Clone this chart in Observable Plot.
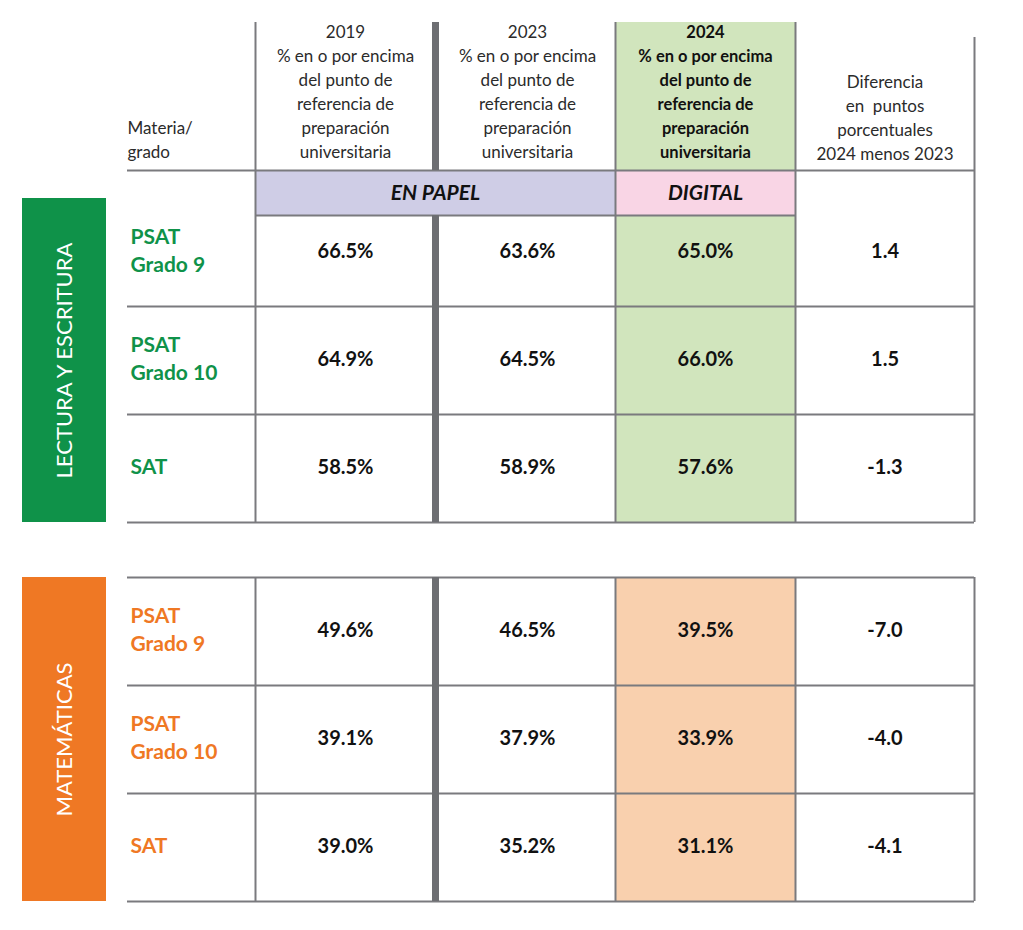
<!DOCTYPE html>
<html>
<head>
<meta charset="utf-8">
<script src="https://cdn.jsdelivr.net/npm/d3@7"></script>
<script src="https://cdn.jsdelivr.net/npm/@observablehq/plot@0.6"></script>
<style>
  html, body { margin: 0; padding: 0; background: #fff; }
  #chart svg { display: block; }
</style>
</head>
<body>
<div id="chart"></div>
<script>
// ---------- DATA ----------
const subjects = ["LECTURA Y ESCRITURA", "MATEMÁTICAS"];
const grades = ["PSAT\nGrado 9", "PSAT\nGrado 10", "SAT", "PSAT\nGrado 9", "PSAT\nGrado 10", "SAT"];
const pct2019 = [66.5, 64.9, 58.5, 49.6, 39.1, 39.0];
const pct2023 = [63.6, 64.5, 58.9, 46.5, 37.9, 35.2];
const pct2024 = [65.0, 66.0, 57.6, 39.5, 33.9, 31.1];
const diffPts = [1.4, 1.5, -1.3, -7.0, -4.0, -4.1];
const headers = [
  "Materia/\ngrado",
  "2019\n% en o por encima\ndel punto de\nreferencia de\npreparación\nuniversitaria",
  "2023\n% en o por encima\ndel punto de\nreferencia de\npreparación\nuniversitaria",
  "2024\n% en o por encima\ndel punto de\nreferencia de\npreparación\nuniversitaria",
  "Diferencia\nen  puntos\nporcentuales\n2024 menos 2023"
];
const modes = ["EN PAPEL", "DIGITAL"];

// ---------- LAYOUT ----------
const colEdges = [127, 255, 435, 615, 795, 974];
const headTop = 22, headBottom = 170, bandBottom = 215;
const sectionEdges = [[215, 306, 414, 522], [577, 685, 793, 901]];
const boxTops = [198, 577];
const boxX = [22, 106];
const subjColor = ["#0f9249", "#ef7824"];
const col2024Fill = ["#d1e5bd", "#f9d0ae"];
const lineColor = "#7a7a7e";
const thickColor = "#6d6e72";
const headerLine = 24;

// build cell table
const rows = grades.map((g, i) => {
  const s = Math.floor(i / 3), r = i % 3;
  const y1 = sectionEdges[s][r], y2 = sectionEdges[s][r + 1];
  const ty1 = r === 0 ? boxTops[s] : y1;
  return {s, label: g, y1, y2, cy: (ty1 + y2) / 2,
    v: [pct2019[i], pct2023[i], pct2024[i]], d: diffPts[i]};
});
const cells = [];
rows.forEach(row => {
  row.v.forEach((v, c) => cells.push({x: (colEdges[c + 1] + colEdges[c + 2]) / 2 + (c === 1 ? 2 : 0), y: row.cy, t: v.toFixed(1) + "%"}));
  cells.push({x: (colEdges[4] + colEdges[5]) / 2, y: row.cy, t: row.d.toFixed(1)});
});

// backgrounds
const bgRects = [
  {x1: colEdges[3], x2: colEdges[4], y1: headTop, y2: sectionEdges[0][3], fill: col2024Fill[0]},
  {x1: colEdges[3], x2: colEdges[4], y1: sectionEdges[1][0], y2: sectionEdges[1][3], fill: col2024Fill[1]},
  {x1: colEdges[1], x2: colEdges[3], y1: headBottom, y2: bandBottom, fill: "#cfcde6"},
  {x1: colEdges[3], x2: colEdges[4], y1: headBottom, y2: bandBottom, fill: "#f9d5e5"},
  {x1: boxX[0], x2: boxX[1], y1: boxTops[0], y2: sectionEdges[0][3], fill: subjColor[0]},
  {x1: boxX[0], x2: boxX[1], y1: boxTops[1], y2: sectionEdges[1][3], fill: subjColor[1]}
];

// horizontal rules
const hRules = [
  {y: headBottom, x1: colEdges[0], x2: colEdges[5]},
  {y: bandBottom, x1: colEdges[1], x2: colEdges[4]},
  ...sectionEdges[0].slice(1).map(y => ({y, x1: colEdges[0], x2: colEdges[5]})),
  ...sectionEdges[1].map(y => ({y, x1: colEdges[0], x2: colEdges[5]}))
];
// vertical thin rules
const vRules = [];
[1, 3, 4, 5].forEach(c => {
  vRules.push({x: colEdges[c], y1: c === 5 ? 37 : headTop, y2: sectionEdges[0][3]});
  vRules.push({x: colEdges[c], y1: sectionEdges[1][0], y2: sectionEdges[1][3]});
});
const thickRules = [
  {x: colEdges[2], y1: headTop, y2: headBottom},
  {x: colEdges[2], y1: bandBottom, y2: sectionEdges[0][3]},
  {x: colEdges[2], y1: sectionEdges[1][0], y2: sectionEdges[1][3]}
];

// header blocks: bottom-aligned above the header rule
const headerItems = headers.map((h, i) => {
  const nLines = h.split("\n").length;
  return {t: h, i, x: i === 0 ? colEdges[0] : (colEdges[i] + colEdges[i + 1]) / 2 + (i === 2 ? 2 : 0),
          y: 20 + (6 - nLines) * headerLine + (i === 4 ? 2 : 0)};
});

const font = "Lato, 'Open Sans', sans-serif";

const chart = Plot.plot({
  width: 1023, height: 930, margin: 0,
  x: {domain: [0, 1023], range: [0, 1023], axis: null},
  y: {domain: [0, 930], range: [0, 930], axis: null},
  color: {type: "identity"},
  style: {background: "#fff", fontFamily: font},
  marks: [
    Plot.rect(bgRects, {x1: "x1", x2: "x2", y1: "y1", y2: "y2", fill: "fill"}),
    Plot.ruleY(hRules, {y: "y", x1: "x1", x2: "x2", stroke: lineColor, strokeWidth: 2}),
    Plot.ruleX(vRules, {x: "x", y1: "y1", y2: "y2", stroke: lineColor, strokeWidth: 2}),
    Plot.ruleX(thickRules, {x: "x", y1: "y1", y2: "y2", stroke: thickColor, strokeWidth: 7}),
    // headers
    Plot.text(headerItems.filter(d => d.i !== 3 && d.i !== 0), {x: "x", y: "y", text: "t", fill: "#2b2b2b",
      fontSize: 17, lineHeight: headerLine / 17, lineAnchor: "top", textAnchor: "middle", fontFamily: font}),
    Plot.text(headerItems.filter(d => d.i === 0), {x: "x", y: "y", text: "t", fill: "#2b2b2b",
      fontSize: 17, lineHeight: headerLine / 17, lineAnchor: "top", textAnchor: "start", fontFamily: font}),
    Plot.text(headerItems.filter(d => d.i === 3), {x: "x", y: "y", text: "t", fill: "#111",
      fontSize: 16.5, lineHeight: headerLine / 16.5, lineAnchor: "top", textAnchor: "middle", fontWeight: "bold", fontFamily: font}),
    // mode band labels
    Plot.text(modes, {x: (d, i) => i === 0 ? (colEdges[1] + colEdges[3]) / 2 : (colEdges[3] + colEdges[4]) / 2,
      y: (headBottom + bandBottom) / 2, text: d => d, fontSize: 21, fontWeight: "bold", fontStyle: "italic",
      fill: "#111", fontFamily: font}),
    // subject boxes text
    Plot.text(subjects, {x: (boxX[0] + boxX[1]) / 2, y: (d, i) => (boxTops[i] + sectionEdges[i][3]) / 2,
      text: d => d, rotate: -90, fill: "#fff", fontSize: 22, fontFamily: font}),
    // row labels
    Plot.text(rows, {x: colEdges[0] + 3, y: d => d.cy - 3, text: "label", fill: d => subjColor[d.s],
      textAnchor: "start", fontSize: 21, fontWeight: "bold", lineHeight: 28 / 21, fontFamily: font}),
    // values
    Plot.text(cells, {x: "x", y: d => d.y - 1, text: "t", fill: "#111", fontSize: 20, fontWeight: "bold", fontFamily: font})
  ]
});
document.getElementById("chart").append(chart);
</script>
</body>
</html>
